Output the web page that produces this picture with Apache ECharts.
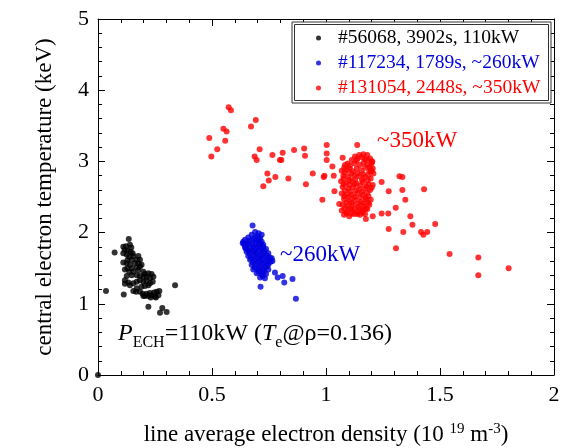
<!DOCTYPE html>
<html>
<head>
<meta charset="utf-8">
<script src="https://cdn.jsdelivr.net/npm/echarts@6/dist/echarts.min.js"></script>
<style>
  html, body { margin: 0; padding: 0; background: #fff; }
  #chart { width: 561px; height: 448px; }
</style>
</head>
<body>
<div id="chart"></div>
<script>
const FONT = "'Liberation Serif', 'DejaVu Serif', serif";

const seriesNames = ['#56068, 3902s, 110kW', '#117234, 1789s, ~260kW', '#131054, 2448s, ~350kW'];
const seriesColors = ['#000000', '#0000dd', '#ff0000'];

const xTicks = [0, 0.5, 1, 1.5, 2];
const yTicks = [0, 1, 2, 3, 4, 5];

// shot #56068, 110 kW  [density, Te]
const pts110 = [
    [0, 0], [0.035, 1.18], [0.073, 1.72], [0.113, 1.13], [0.338, 1.26], [0.221, 0.96],
    [0.282, 0.94], [0.272, 0.875], [0.301, 0.885],
    [0.135, 1.91], [0.111, 1.80], [0.123, 1.81], [0.140, 1.83], [0.146, 1.79], [0.117, 1.76],
    [0.129, 1.75], [0.143, 1.73], [0.152, 1.71], [0.111, 1.71], [0.126, 1.69], [0.137, 1.66],
    [0.155, 1.67], [0.177, 1.67], [0.184, 1.62], [0.170, 1.62], [0.148, 1.62], [0.129, 1.61],
    [0.111, 1.58], [0.126, 1.57], [0.140, 1.55], [0.162, 1.57], [0.177, 1.57], [0.191, 1.55],
    [0.184, 1.52], [0.170, 1.51], [0.148, 1.50], [0.129, 1.50], [0.118, 1.48], [0.137, 1.45],
    [0.155, 1.45], [0.177, 1.47], [0.199, 1.45], [0.206, 1.42], [0.221, 1.43], [0.235, 1.42],
    [0.243, 1.38], [0.228, 1.36], [0.213, 1.38], [0.199, 1.38], [0.184, 1.39], [0.170, 1.40],
    [0.148, 1.40], [0.126, 1.39], [0.118, 1.33], [0.133, 1.30], [0.118, 1.28], [0.140, 1.26],
    [0.155, 1.29], [0.170, 1.31], [0.184, 1.33], [0.199, 1.31], [0.213, 1.32], [0.228, 1.29],
    [0.240, 1.31], [0.221, 1.26], [0.206, 1.25], [0.191, 1.24], [0.170, 1.22], [0.155, 1.18],
    [0.167, 1.17], [0.184, 1.17], [0.196, 1.14], [0.206, 1.11], [0.221, 1.11], [0.235, 1.12],
    [0.250, 1.10], [0.265, 1.12], [0.269, 1.18], [0.257, 1.17], [0.246, 1.16], [0.228, 1.15],
    [0.213, 1.14], [0.199, 1.11], [0.254, 1.09], [0.231, 1.09]
];

// shot #117234, ~260 kW
const pts260 = [
    [0.678, 2.10], [0.689, 2.01], [0.704, 1.99], [0.718, 1.97], [0.674, 1.97], [0.659, 1.93],
    [0.689, 1.93], [0.711, 1.92], [0.645, 1.90], [0.667, 1.89], [0.696, 1.89], [0.718, 1.87],
    [0.637, 1.87], [0.635, 1.85], [0.655, 1.84], [0.678, 1.84], [0.704, 1.83], [0.725, 1.83],
    [0.645, 1.79], [0.667, 1.78], [0.689, 1.78], [0.713, 1.78], [0.737, 1.77], [0.649, 1.77],
    [0.652, 1.73], [0.674, 1.73], [0.696, 1.72], [0.722, 1.72], [0.747, 1.71], [0.659, 1.67],
    [0.684, 1.67], [0.708, 1.66], [0.732, 1.66], [0.754, 1.65], [0.762, 1.64], [0.667, 1.62],
    [0.690, 1.61], [0.713, 1.61], [0.737, 1.59], [0.757, 1.59], [0.674, 1.55], [0.696, 1.55],
    [0.718, 1.55], [0.743, 1.53], [0.681, 1.48], [0.704, 1.48], [0.725, 1.48], [0.747, 1.48],
    [0.696, 1.43], [0.718, 1.42], [0.737, 1.42], [0.711, 1.37], [0.732, 1.36], [0.713, 1.24],
    [0.700, 1.95], [0.682, 1.91], [0.705, 1.90], [0.660, 1.86], [0.690, 1.86], [0.713, 1.85],
    [0.650, 1.81], [0.678, 1.81], [0.700, 1.80], [0.724, 1.80], [0.660, 1.75], [0.685, 1.75],
    [0.708, 1.75], [0.730, 1.74], [0.665, 1.70], [0.690, 1.70], [0.715, 1.69], [0.740, 1.68],
    [0.672, 1.64], [0.698, 1.64], [0.722, 1.63], [0.745, 1.62], [0.680, 1.58], [0.703, 1.58],
    [0.726, 1.57], [0.748, 1.56], [0.688, 1.51], [0.710, 1.51], [0.733, 1.51], [0.705, 1.45],
    [0.727, 1.45], [0.722, 1.39], [0.642, 1.83], [0.765, 1.60],
    [0.776, 1.44], [0.788, 1.37], [0.810, 1.39], [0.817, 1.30], [0.853, 1.35], [0.868, 1.07]
];

// shot #131054, ~350 kW
const pts350 = [
    [0.488, 3.33], [0.497, 3.07], [0.523, 3.17], [0.550, 3.46], [0.564, 3.42], [0.558, 3.29],
    [0.573, 3.76], [0.583, 3.72], [0.671, 3.49], [0.692, 3.58], [0.709, 3.17], [0.687, 3.07],
    [0.696, 3.02], [0.765, 3.09], [0.743, 2.83], [0.749, 2.73], [0.778, 2.78], [0.725, 2.65],
    [0.798, 3.02], [0.810, 3.12], [0.804, 3.02], [0.860, 3.16], [0.904, 3.18], [0.908, 3.08],
    [1.003, 3.23], [1.003, 3.11], [1.003, 3.02], [1.137, 3.23], [1.073, 3.05], [0.835, 2.76],
    [0.912, 2.68], [0.942, 2.83], [0.993, 2.80], [0.990, 2.78], [1.028, 2.93], [1.034, 2.80],
    [1.037, 2.58], [0.984, 2.46], [1.058, 2.40], [1.203, 3.00], [1.200, 2.97], [1.196, 2.88],
    [1.244, 2.71], [1.275, 2.58], [1.322, 2.79], [1.335, 2.78], [1.335, 2.60], [1.348, 2.46],
    [1.306, 2.35], [1.430, 2.61], [1.244, 2.27], [1.273, 2.27], [1.205, 2.23], [1.175, 2.19],
    [1.370, 2.23], [1.379, 2.11], [1.275, 2.05], [1.339, 2.01], [1.307, 1.78], [1.417, 2.01],
    [1.427, 1.97], [1.444, 2.01], [1.479, 2.12], [1.542, 1.70], [1.668, 1.65], [1.668, 1.40],
    [1.801, 1.50],
    [1.127, 3.07], [1.146, 3.09], [1.164, 3.10], [1.181, 3.09], [1.193, 3.04], [1.113, 3.02],
    [1.134, 3.01], [1.171, 3.03], [1.200, 3.00], [1.083, 2.95], [1.105, 2.94], [1.149, 2.95],
    [1.181, 2.95], [1.205, 2.90], [1.069, 2.87], [1.091, 2.88], [1.117, 2.86], [1.156, 2.87],
    [1.190, 2.86], [1.208, 2.83], [1.076, 2.80], [1.098, 2.78], [1.123, 2.80], [1.146, 2.79],
    [1.171, 2.78], [1.196, 2.76], [1.066, 2.72], [1.088, 2.70], [1.113, 2.72], [1.134, 2.69],
    [1.161, 2.71], [1.186, 2.68], [1.205, 2.67], [1.073, 2.64], [1.098, 2.62], [1.120, 2.64],
    [1.146, 2.61], [1.171, 2.62], [1.193, 2.60], [1.069, 2.55], [1.091, 2.54], [1.113, 2.53],
    [1.137, 2.55], [1.161, 2.53], [1.186, 2.51], [1.079, 2.47], [1.102, 2.45], [1.127, 2.46],
    [1.152, 2.43], [1.175, 2.46], [1.196, 2.46], [1.073, 2.39], [1.094, 2.37], [1.117, 2.39],
    [1.142, 2.36], [1.167, 2.37], [1.190, 2.39], [1.069, 2.31], [1.091, 2.29], [1.113, 2.32],
    [1.137, 2.29], [1.161, 2.31], [1.181, 2.33], [1.079, 2.25], [1.102, 2.23], [1.123, 2.26],
    [1.149, 2.25], [1.171, 2.26],
    [1.138, 3.04], [1.158, 3.06], [1.180, 3.02], [1.095, 2.97], [1.125, 2.97], [1.165, 2.98],
    [1.192, 2.92], [1.080, 2.91], [1.104, 2.90], [1.135, 2.90], [1.172, 2.91], [1.200, 2.86],
    [1.083, 2.84], [1.110, 2.83], [1.138, 2.83], [1.163, 2.82], [1.185, 2.81], [1.077, 2.76],
    [1.102, 2.74], [1.128, 2.75], [1.158, 2.74], [1.183, 2.73], [1.078, 2.68], [1.103, 2.67],
    [1.125, 2.68], [1.150, 2.66], [1.176, 2.65], [1.200, 2.63], [1.083, 2.59], [1.108, 2.58],
    [1.132, 2.59], [1.158, 2.57], [1.181, 2.56], [1.080, 2.51], [1.101, 2.50], [1.125, 2.50],
    [1.149, 2.49], [1.173, 2.49], [1.090, 2.42], [1.113, 2.42], [1.140, 2.41], [1.163, 2.41],
    [1.185, 2.42], [1.082, 2.34], [1.104, 2.34], [1.126, 2.34], [1.150, 2.33], [1.175, 2.34],
    [1.090, 2.27], [1.112, 2.27], [1.137, 2.26], [1.160, 2.28]
];

const allData = [pts110, pts260, pts350];

const chart = echarts.init(document.getElementById('chart'));

function boxAxis(pos, min, max, interval, show) {
    return {
        type: 'value',
        position: pos,
        min: min,
        max: max,
        interval: interval,
        axisLine: { show: true, onZero: false, lineStyle: { color: '#000', width: 1 } },
        axisTick: { show: true, inside: true, length: 7, lineStyle: { color: '#000' } },
        minorTick: { show: true, splitNumber: 5, length: 4, lineStyle: { color: '#000' } },
        splitLine: { show: false },
        axisLabel: { show: show, color: '#000', fontFamily: FONT, fontSize: 22, margin: 9 }
    };
}

const xMain = boxAxis('bottom', xTicks[0], xTicks[xTicks.length - 1], 0.5, true);
xMain.name = '{n|line average electron density (10 }{s|19}{n| m}{s|-3}{n|)}';
xMain.nameLocation = 'middle';
xMain.nameGap = 47;
xMain.nameTextStyle = {
    color: '#000', fontFamily: FONT,
    rich: {
        n: { fontFamily: FONT, fontSize: 23, lineHeight: 26, color: '#000' },
        s: { fontFamily: FONT, fontSize: 15, lineHeight: 14, padding: [0, 0, 12, 0], color: '#000' }
    }
};

const yMain = boxAxis('left', yTicks[0], yTicks[yTicks.length - 1], 1, true);
yMain.name = 'central electron temperature (keV)';
yMain.nameLocation = 'middle';
yMain.nameGap = 42;
yMain.nameTextStyle = { color: '#000', fontFamily: FONT, fontSize: 23 };

const option = {
    animation: false,
    backgroundColor: '#fff',
    grid: { left: 98, right: 7, top: 19, bottom: 73, containLabel: false, outerBoundsMode: 'none' },
    xAxis: [xMain, boxAxis('top', 0, 2, 0.5, false)],
    yAxis: [yMain, boxAxis('right', 0, 5, 1, false)],
    legend: {
        orient: 'vertical',
        left: 316,
        top: 28,
        padding: 0,
        itemGap: 5,
        itemWidth: 5,
        itemHeight: 5,
        icon: 'circle',
        textStyle: { fontFamily: FONT, fontSize: 19.5, padding: [0, 0, 0, 12] },
        data: seriesNames.map((n, i) => ({ name: n, textStyle: { color: seriesColors[i] } }))
    },
    series: allData.map((d, i) => ({
        name: seriesNames[i],
        type: 'scatter',
        xAxisIndex: 0,
        yAxisIndex: 0,
        symbol: 'circle',
        symbolSize: 6,
        itemStyle: { color: seriesColors[i] },
        data: d
    })),
    graphic: [
        // double border round the legend
        { type: 'rect', z: 3, shape: { x: 292, y: 22, width: 259, height: 81 },
          style: { fill: '#fff', stroke: '#333', lineWidth: 1 } },
        { type: 'rect', z: 3, shape: { x: 294.5, y: 24.5, width: 254, height: 76 },
          style: { fill: 'none', stroke: '#333', lineWidth: 1 } },
        { type: 'text', z: 5, x: 377, y: 141,
          style: { text: '~350kW', fill: '#ff0000', font: '23px ' + FONT, verticalAlign: 'middle' } },
        { type: 'text', z: 5, x: 280, y: 255,
          style: { text: '~260kW', fill: '#0000dd', font: '23px ' + FONT, verticalAlign: 'middle' } },
        { type: 'text', z: 5, x: 118, y: 334,
          style: {
              text: '{i|P}{b|ECH}{n|=110kW (}{i|T}{b|e}{n|@ρ=0.136)}',
              verticalAlign: 'middle',
              rich: {
                  n: { fontFamily: FONT, fontSize: 24, lineHeight: 28, fill: '#000' },
                  i: { fontFamily: FONT, fontSize: 24, lineHeight: 28, fontStyle: 'italic', fill: '#000' },
                  b: { fontFamily: FONT, fontSize: 16, lineHeight: 14, padding: [18, 0, 0, 0], fill: '#000' }
              }
          } }
    ]
};

chart.setOption(option);
</script>
</body>
</html>
